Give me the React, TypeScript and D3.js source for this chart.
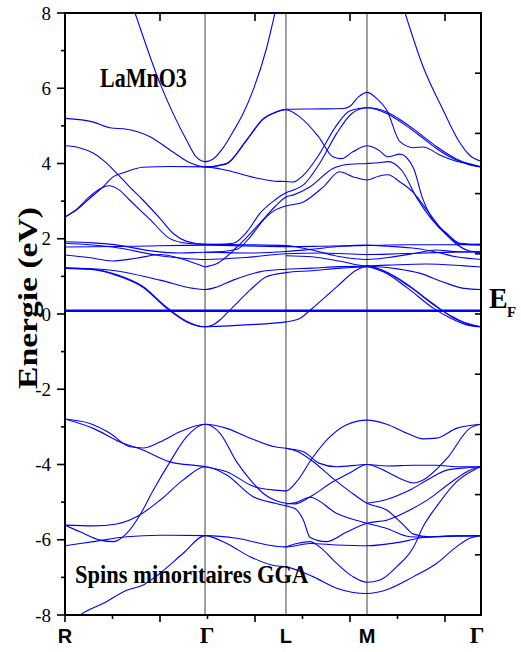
import React from "react";
import * as d3 from "d3";

type Pt = [number, number];

// high-symmetry points (k axis units) and labels
const symK = [0, 1.474, 2.326, 3.179, 4.379];
const symLabels = ["R", "Γ", "L", "M", "Γ"];
const yMajorTicks = [-8, -6, -4, -2, 0, 2, 4, 6, 8];
const yMinorTicks = [-7, -5, -3, -1, 1, 3, 5, 7];
const yRightTicks = [-8, -6.4, -4.8, -3.2, -1.6, 0, 1.6, 3.2, 4.8, 6.4, 8];
const xTicks = [0, 0.5, 1, 1.5, 2, 2.5, 3, 3.5, 4];
const fermiLevel = 0.085;

// ---- conduction bands ----
const bandPar1: Pt[] = [[0.6, 9.0], [0.737, 8.0], [1.0, 6.13], [1.28, 4.62], [1.386, 4.16], [1.474, 4.05], [1.56, 4.12], [1.66, 4.4], [1.77, 4.85], [1.87, 5.3], [1.98, 5.95], [2.12, 7.05], [2.21, 8.0], [2.3, 9.0]];
const bandPar2: Pt[] = [[3.46, 9.0], [3.58, 8.0], [3.77, 6.57], [3.98, 5.42], [4.14, 4.62], [4.26, 4.22], [4.379, 4.06]];
const bandA: Pt[] = [[0, 5.2], [0.3, 5.1], [0.474, 4.95], [0.65, 4.91], [0.895, 4.71], [1.105, 4.36], [1.316, 4.02], [1.474, 3.91], [1.7, 4.0], [1.91, 4.62], [2.09, 5.2], [2.21, 5.36], [2.326, 5.44], [2.6, 5.45], [2.93, 5.46], [3.0, 5.52], [3.09, 5.77], [3.179, 5.89], [3.28, 5.73], [3.386, 5.42], [3.526, 4.58], [3.67, 4.42], [3.77, 4.44], [3.95, 4.22], [4.12, 4.06], [4.26, 3.99], [4.379, 3.91]];
const bandB: Pt[] = [[1.474, 3.9], [1.7, 3.99], [1.91, 4.61], [2.09, 5.19], [2.21, 5.35], [2.326, 5.43], [2.47, 5.24], [2.67, 4.71], [2.82, 4.18], [2.91, 4.13], [3.03, 4.31], [3.179, 4.47], [3.3, 4.36], [3.4, 4.18], [3.526, 4.25], [3.67, 3.87], [3.76, 3.1], [3.85, 2.6], [4.02, 2.14], [4.16, 1.88], [4.379, 1.85]];
const bandC: Pt[] = [[0, 4.47], [0.15, 4.42], [0.3, 4.27], [0.42, 4.05], [0.53, 3.78], [0.68, 3.38], [0.82, 3.03], [1.0, 2.54], [1.14, 2.14], [1.28, 1.93], [1.474, 1.85], [1.6, 1.85], [1.77, 1.88], [1.92, 2.2], [2.05, 2.67], [2.21, 3.03], [2.326, 3.22], [2.4, 3.29], [2.51, 3.43], [2.68, 4.0], [2.86, 4.8], [3.02, 5.33], [3.179, 5.48], [3.386, 5.37], [3.56, 5.11], [3.74, 4.78], [3.91, 4.45], [4.12, 4.12], [4.26, 3.98], [4.379, 3.91]];
const bandD: Pt[] = [[0, 2.58], [0.12, 2.76], [0.25, 3.05], [0.4, 3.38], [0.51, 3.65], [0.62, 3.76], [0.82, 3.9], [1.1, 3.92], [1.474, 3.91], [1.7, 3.82], [2.0, 3.62], [2.21, 3.53], [2.326, 3.52], [2.4, 3.51], [2.51, 3.69], [2.67, 4.22], [2.86, 5.02], [3.0, 5.4], [3.179, 5.48], [3.386, 5.33], [3.56, 5.06], [3.74, 4.73], [3.91, 4.4], [4.12, 4.09], [4.26, 3.96], [4.379, 3.91]];
const bandE: Pt[] = [[0, 2.58], [0.12, 2.78], [0.25, 3.1], [0.37, 3.33], [0.46, 3.41], [0.57, 3.3], [0.68, 3.03], [0.9, 2.5], [1.1, 2.01], [1.28, 1.88], [1.474, 1.85], [1.9, 1.84], [2.326, 1.82], [2.6, 1.7], [2.9, 1.52], [3.179, 1.45], [3.4, 1.5], [3.7, 1.62], [3.9, 1.7], [4.1, 1.66], [4.379, 1.64]];
const bandF: Pt[] = [[1.474, 1.64], [1.6, 1.65], [1.81, 1.72], [1.95, 2.05], [2.09, 2.5], [2.21, 2.76], [2.326, 2.87], [2.51, 2.98], [2.72, 3.38], [2.89, 3.78], [3.03, 3.65], [3.179, 3.56], [3.3, 3.66], [3.4, 3.7], [3.526, 3.51], [3.67, 3.22], [3.81, 2.76], [3.95, 2.3], [4.1, 1.9], [4.25, 1.68], [4.379, 1.64]];
const bandG: Pt[] = [[1.474, 1.25], [1.6, 1.34], [1.81, 1.78], [2.05, 2.41], [2.21, 2.85], [2.326, 3.11], [2.4, 3.16], [2.58, 3.38], [2.82, 3.87], [3.0, 3.98], [3.179, 4.0], [3.3, 4.02], [3.4, 4.05], [3.55, 3.8], [3.7, 3.1], [3.85, 2.55], [4.02, 2.1], [4.16, 1.86], [4.379, 1.83]];

// ---- Mn d / flat cluster ----
const bandH: Pt[] = [[0, 1.92], [0.3, 1.89], [0.5, 1.85], [0.9, 1.68], [1.2, 1.62], [1.474, 1.64], [1.9, 1.62], [2.326, 1.66], [2.6, 1.72], [2.9, 1.8], [3.179, 1.83], [3.4, 1.8], [3.7, 1.74], [3.9, 1.65], [4.12, 1.52], [4.379, 1.45]];
const bandI: Pt[] = [[0, 1.88], [0.5, 1.78], [1.0, 1.55], [1.3, 1.47], [1.474, 1.45], [1.9, 1.5], [2.326, 1.6], [2.7, 1.62], [3.179, 1.58], [3.5, 1.6], [3.9, 1.63], [4.379, 1.66]];
const bandJ: Pt[] = [[0, 1.78], [0.7, 1.8], [1.474, 1.83], [1.9, 1.81], [2.326, 1.79], [2.7, 1.8], [3.179, 1.82], [3.6, 1.84], [4.0, 1.84], [4.379, 1.85]];
const bandK: Pt[] = [[0, 1.57], [0.25, 1.5], [0.5, 1.41], [0.75, 1.48], [1.0, 1.58], [1.25, 1.45], [1.474, 1.25]];
const bandK2: Pt[] = [[2.326, 1.55], [2.6, 1.52], [2.9, 1.4], [3.179, 1.28], [3.4, 1.3], [3.8, 1.33], [4.2, 1.28], [4.379, 1.25]];
const bandM: Pt[] = [[0, 1.23], [0.47, 1.17], [1.0, 0.9], [1.35, 0.68], [1.474, 0.65], [1.6, 0.72], [1.77, 0.9], [2.05, 1.12], [2.326, 1.19], [2.6, 1.22], [2.9, 1.26], [3.179, 1.27], [3.5, 1.2], [3.74, 1.08], [3.98, 0.85], [4.2, 0.68], [4.379, 0.65]];
const bandN: Pt[] = [[0, 1.21], [0.3, 1.18], [0.55, 1.02], [0.82, 0.71], [1.07, 0.15], [1.28, -0.21], [1.474, -0.34], [1.6, -0.33], [1.9, -0.29], [2.326, -0.21], [2.47, -0.12], [2.58, 0.1], [2.86, 0.72], [3.07, 1.17], [3.179, 1.27], [3.35, 1.15], [3.63, 0.72], [3.91, 0.19], [4.05, -0.03], [4.26, -0.29], [4.379, -0.34]];
const bandO: Pt[] = [[0, 1.22], [0.3, 1.19], [0.55, 1.04], [0.82, 0.73], [1.07, 0.18], [1.28, -0.19], [1.474, -0.34], [1.55, -0.3], [1.63, -0.16], [1.77, 0.19], [1.95, 0.64], [2.12, 0.99], [2.326, 1.1], [2.6, 1.15], [2.9, 1.22], [3.179, 1.25], [3.35, 1.12], [3.6, 0.7], [3.88, 0.15], [4.05, -0.1], [4.26, -0.31], [4.379, -0.34]];
const bandP: Pt[] = [[3.179, 1.28], [3.3, 1.2], [3.55, 0.88], [3.85, 0.32], [4.1, -0.12], [4.379, -0.34]];

// ---- valence bands ----
const bandV1: Pt[] = [[0, -2.79], [0.263, -2.91], [0.474, -3.17], [0.684, -3.53], [0.825, -3.56], [1.0, -3.4], [1.21, -3.13], [1.474, -2.93], [1.702, -3.04], [1.912, -3.26], [2.21, -3.53], [2.326, -3.57], [2.51, -3.66], [2.68, -3.97], [2.86, -4.06], [3.179, -4.0], [3.386, -4.04], [3.67, -4.02], [3.91, -4.02], [4.12, -4.06], [4.379, -4.06]];
const bandV2: Pt[] = [[0, -2.79], [0.298, -3.04], [0.579, -3.4], [0.825, -3.62], [1.105, -3.93], [1.474, -4.06], [1.702, -4.19], [1.982, -4.58], [2.21, -4.68], [2.326, -4.7], [2.44, -4.45], [2.6, -3.84], [2.79, -3.26], [2.96, -2.95], [3.179, -2.82], [3.386, -2.93], [3.6, -3.17], [3.77, -3.32], [3.91, -3.3], [4.12, -3.04], [4.379, -2.93]];
const bandV3: Pt[] = [[0, -5.61], [0.158, -5.79], [0.368, -6.01], [0.509, -6.05], [0.649, -5.83], [0.789, -5.34], [0.93, -4.68], [1.105, -3.93], [1.281, -3.26], [1.474, -2.93], [1.632, -3.17], [1.807, -3.93], [1.982, -4.5], [2.088, -4.77], [2.21, -4.95], [2.326, -5.03], [2.42, -5.05], [2.58, -4.86], [2.82, -4.46], [3.0, -4.22], [3.179, -4.0], [3.386, -4.19], [3.56, -4.41], [3.67, -4.49], [3.77, -4.41], [4.02, -3.84], [4.26, -3.04], [4.379, -2.93]];
const bandV4: Pt[] = [[0, -5.61], [0.298, -5.63], [0.544, -5.58], [0.754, -5.39], [1.0, -4.95], [1.245, -4.41], [1.474, -4.06], [1.702, -4.28], [1.982, -4.86], [2.21, -5.03], [2.326, -5.1], [2.42, -5.17], [2.51, -5.48], [2.58, -5.94], [2.75, -6.05], [2.96, -5.8], [3.179, -5.56], [3.386, -5.48], [3.63, -5.21], [3.84, -4.9], [4.05, -4.5], [4.26, -4.15], [4.379, -4.06]];
const bandV5: Pt[] = [[2.326, -3.57], [2.44, -3.65], [2.6, -3.9], [2.82, -4.37], [3.0, -4.72], [3.179, -5.03], [3.386, -5.21], [3.56, -5.6], [3.67, -5.85], [3.84, -5.92], [4.12, -5.9], [4.379, -5.89]];
const bandV6: Pt[] = [[2.326, -5.05], [2.42, -5.02], [2.58, -4.87], [2.86, -5.3], [3.179, -5.56], [3.386, -5.7], [3.63, -5.92], [3.77, -5.93], [4.05, -5.9], [4.379, -5.89]];
const bandV7: Pt[] = [[3.179, -5.03], [3.386, -4.93], [3.63, -4.68], [3.84, -4.37], [4.02, -4.15], [4.26, -4.08], [4.379, -4.06]];
const bandV8: Pt[] = [[0, -6.16], [0.298, -6.05], [0.649, -5.92], [1.0, -5.88], [1.474, -5.89], [1.807, -5.96], [2.21, -6.17], [2.326, -6.19], [2.58, -6.1], [2.86, -6.14], [3.179, -6.16], [3.56, -6.05], [3.77, -5.94], [4.12, -5.9], [4.379, -5.89]];
const bandV9: Pt[] = [[0, -8.35], [0.158, -8.0], [0.404, -7.69], [0.649, -7.34], [0.825, -7.2], [1.0, -6.89], [1.245, -6.36], [1.474, -5.89], [1.702, -6.1], [1.947, -6.45], [2.21, -6.69], [2.326, -6.72], [2.61, -6.98], [2.86, -7.29], [3.179, -7.43], [3.386, -7.33], [3.67, -6.98], [3.91, -6.63], [4.12, -6.19], [4.26, -5.96], [4.379, -5.89]];
const bandV10: Pt[] = [[2.326, -6.19], [2.44, -6.1], [2.58, -6.05], [2.68, -6.19], [2.86, -6.63], [3.03, -6.98], [3.179, -7.13], [3.316, -7.07], [3.49, -6.72], [3.67, -6.19], [3.77, -5.65], [3.91, -5.12], [4.12, -4.46], [4.3, -4.15], [4.379, -4.06]];

const allBands: Pt[][] = [
  bandPar1, bandPar2, bandA, bandB, bandC, bandD, bandE, bandF, bandG,
  bandH, bandI, bandJ, bandK, bandK2, bandM, bandN, bandO, bandP,
  bandV1, bandV2, bandV3, bandV4, bandV5, bandV6, bandV7, bandV8, bandV9, bandV10,
];

const W = 521;
const H = 652;
const left = 65, right = 481, top = 13, bottom = 615;

export default function App() {
  const x = d3.scaleLinear().domain([0, 4.379]).range([left, right]);
  const y = d3.scaleLinear().domain([-8, 8]).range([bottom, top]);
  const line = d3
    .line<Pt>()
    .x((d) => x(d[0]))
    .y((d) => y(d[1]))
    .curve(d3.curveMonotoneX);
  const serif = "'Liberation Serif', 'Times New Roman', serif";
  const sans = "'Liberation Sans', Arial, sans-serif";
  const blue = "#0000ff";

  return (
    <svg width={W} height={H} style={{ position: "absolute", left: 0, top: 0, background: "#fff" }}>
      <defs>
        <clipPath id="plotclip">
          <rect x={left} y={top} width={right - left} height={bottom - top} />
        </clipPath>
      </defs>
      <rect x={0} y={0} width={W} height={H} fill="#fff" />
      {/* vertical high-symmetry lines */}
      {symK.slice(1, 4).map((k, i) => (
        <line key={"v" + i} x1={x(k)} x2={x(k)} y1={top} y2={bottom} stroke="#808080" strokeWidth={1.5} />
      ))}
      <g clipPath="url(#plotclip)">
        {allBands.map((b, i) => (
          <path key={"b" + i} d={line(b) || ""} fill="none" stroke={blue} strokeWidth={1.1} />
        ))}
      </g>
      {/* Fermi level */}
      <line x1={left} x2={right} y1={y(fermiLevel)} y2={y(fermiLevel)} stroke={blue} strokeWidth={2.6} />
      {/* frame */}
      <rect x={left} y={top} width={right - left} height={bottom - top} fill="none" stroke="#000" strokeWidth={2} />
      {/* left ticks */}
      {yMajorTicks.map((v) => (
        <g key={"ym" + v}>
          <line x1={left - 8} x2={left} y1={y(v)} y2={y(v)} stroke="#000" strokeWidth={1.6} />
          <text x={51} y={y(v) + 6.5} textAnchor="end" fontFamily={serif} fontSize={19} fill="#000">
            {v < 0 ? "-" + Math.abs(v) : String(v)}
          </text>
        </g>
      ))}
      {yMinorTicks.map((v) => (
        <line key={"yn" + v} x1={left - 4} x2={left} y1={y(v)} y2={y(v)} stroke="#000" strokeWidth={1.6} />
      ))}
      {/* right ticks (inward) */}
      {yRightTicks.map((v) => (
        <line key={"yr" + v} x1={right - 6} x2={right} y1={y(v)} y2={y(v)} stroke="#000" strokeWidth={1.6} />
      ))}
      {/* bottom & top ticks */}
      {xTicks.map((k) => {
        const major = Math.abs(k - Math.round(k)) < 1e-6;
        return (
          <g key={"xt" + k}>
            <line x1={x(k)} x2={x(k)} y1={bottom} y2={bottom + (major ? 7 : 4)} stroke="#000" strokeWidth={1.6} />
            {major && <line x1={x(k)} x2={x(k)} y1={top} y2={top + 8} stroke="#000" strokeWidth={1.6} />}
          </g>
        );
      })}
      {/* x labels */}
      {symK.map((k, i) => {
        const isGamma = symLabels[i] === "Γ";
        const px = i === 4 ? x(k) - 4 : i === 1 ? x(k) + 2 : x(k);
        return (
          <text
            key={"xl" + i}
            x={px}
            y={643}
            textAnchor="middle"
            fontFamily={isGamma ? serif : sans}
            fontWeight="bold"
            fontSize={isGamma ? 23 : 20}
            fill="#000"
          >
            {symLabels[i]}
          </text>
        );
      })}
      {/* y title */}
      <text
        transform="translate(37,298) rotate(-90) scale(1.2,1)"
        textAnchor="middle"
        fontFamily={serif}
        fontWeight="bold"
        fontSize={28}
        fill="#000"
      >
        Energie (eV)
      </text>
      {/* annotations */}
      <text transform="translate(100,87) scale(1,1.2)" fontFamily={serif} fontWeight="bold" fontSize={22} fill="#000">
        LaMnO3
      </text>
      <text transform="translate(75,583) scale(1,1.15)" fontFamily={serif} fontWeight="bold" fontSize={22.5} fill="#000">
        Spins minoritaires GGA
      </text>
      <text transform="translate(489,308) scale(1,1.08)" fontFamily={serif} fontWeight="bold" fontSize={28} fill="#000">
        E
      </text>
      <text x={507} y={317} fontFamily={serif} fontWeight="bold" fontSize={15} fill="#000">
        F
      </text>
    </svg>
  );
}
